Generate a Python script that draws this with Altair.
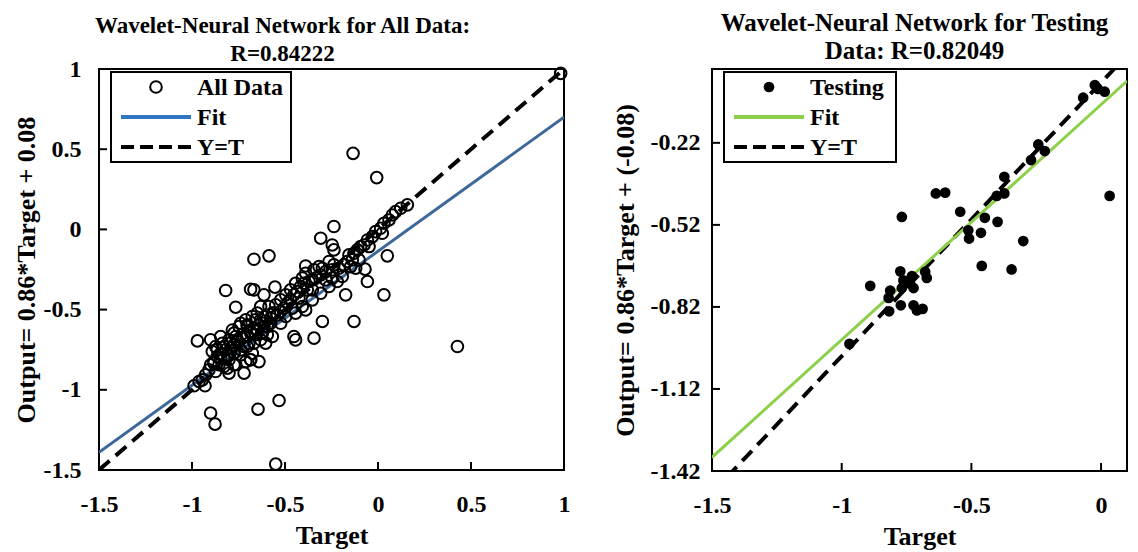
import altair as alt
import pandas as pd

# ---- All data (Target, Output) ----
all_target = [
    0.158, 0.122, 0.095, 0.077, 0.059, 0.032, 0.014, -0.013, 0.023, -0.030, -0.057, -0.075,
    -0.093, -0.048, -0.111, -0.129, -0.156, -0.138, -0.165, -0.183, -0.147, -0.210, -0.237,
    -0.263, -0.246, -0.281, -0.299, -0.308, -0.335, -0.353, -0.371, -0.398, -0.416, -0.380,
    -0.353, -0.434, -0.452, -0.425, -0.470, -0.487, -0.505, -0.461, -0.523, -0.541, -0.568,
    -0.577, -0.604, -0.613, -0.595, -0.640, -0.658, -0.667, -0.685, -0.658, -0.622, -0.703,
    -0.729, -0.747, -0.756, -0.774, -0.720, -0.694, -0.792, -0.819, -0.774, -0.738, -0.846,
    -0.864, -0.828, -0.801, -0.882, -0.855, -0.810, -0.765, -0.711, -0.640, -0.900, -0.909,
    -0.873, -0.801, -0.720, -0.927, -0.944, -0.962,
    -0.550, -0.586, -0.523, -0.496, -0.470, -0.443, -0.407, -0.389, -0.344, -0.317, -0.649,
    -0.631, -0.676, -0.711, -0.738, -0.703, -0.783, -0.765, -0.801, -0.837, -0.873, -0.891,
    -0.676, -0.685, -0.604, -0.568, -0.523, -0.496, -0.443, -0.407, -0.353, -0.308, -0.263,
    -0.219, -0.192, -0.246, -0.281, -0.102, -0.120,
    -0.864, -0.828, -0.792, -0.756, -0.720, -0.684, -0.649, -0.613, -0.577, -0.846, -0.810,
    -0.774, -0.738, -0.703, -0.667, -0.631, -0.595, -0.882, -0.774, -0.684, -0.828, -0.900,
    -0.846, -0.774, -0.703, -0.631, -0.559,
    0.982, -0.134, -0.007, -0.237, -0.308, -0.246, -0.237, -0.667, -0.586, -0.389, 0.050,
    -0.070, -0.057, 0.032, -0.174, -0.129, -0.299, -0.344, -0.452, -0.443, -0.819, -0.765,
    -0.685, -0.667, -0.554, -0.971, 0.427, -0.989, -0.930, -0.532, -0.645, -0.900, -0.876,
    -0.550, -0.613, -0.389,
]
all_output = [
    0.153, 0.132, 0.111, 0.090, 0.059, 0.038, 0.007, -0.014, -0.024, -0.045, -0.066, -0.097,
    -0.107, -0.107, -0.128, -0.149, -0.159, -0.190, -0.200, -0.221, -0.232, -0.242, -0.221,
    -0.200, -0.252, -0.263, -0.242, -0.284, -0.304, -0.315, -0.325, -0.336, -0.356, -0.377,
    -0.377, -0.387, -0.408, -0.429, -0.439, -0.460, -0.491, -0.491, -0.512, -0.533, -0.522,
    -0.554, -0.543, -0.585, -0.606, -0.595, -0.564, -0.616, -0.637, -0.657, -0.647, -0.668,
    -0.678, -0.606, -0.699, -0.720, -0.730, -0.709, -0.740, -0.751, -0.771, -0.782, -0.772,
    -0.792, -0.803, -0.813, -0.824, -0.844, -0.865, -0.844, -0.824, -0.824, -0.844, -0.876,
    -0.886, -0.896, -0.896, -0.907, -0.938, -0.948,
    -0.470, -0.481, -0.439, -0.408, -0.377, -0.336, -0.304, -0.273, -0.252, -0.232, -0.522,
    -0.481, -0.543, -0.564, -0.585, -0.606, -0.627, -0.668, -0.689, -0.710, -0.730, -0.761,
    -0.772, -0.813, -0.709, -0.668, -0.585, -0.543, -0.522, -0.481, -0.439, -0.398, -0.356,
    -0.325, -0.294, -0.304, -0.315, -0.190, -0.242,
    -0.751, -0.730, -0.709, -0.688, -0.668, -0.647, -0.626, -0.606, -0.585, -0.803, -0.782,
    -0.771, -0.751, -0.730, -0.709, -0.688, -0.657, -0.834, -0.844, -0.813, -0.855, -0.688,
    -0.668, -0.647, -0.595, -0.564, -0.522,
    0.973, 0.474, 0.323, 0.018, -0.055, -0.097, -0.128, -0.186, -0.165, -0.228, -0.165,
    -0.248, -0.325, -0.408, -0.408, -0.574, -0.574, -0.678, -0.668, -0.689, -0.381, -0.485,
    -0.373, -0.377, -0.360, -0.695, -0.730, -0.975, -0.975, -1.067, -1.121, -1.145, -1.214,
    -1.463, -0.408, -0.502,
]

# ---- Testing data ----
test_target = [
    -0.024, 0.014, -0.012, -0.069, 0.033, -0.242, -0.217, -0.270, -0.373, -0.373, -0.402,
    -0.637, -0.601, -0.768, -0.543, -0.448, -0.399, -0.512, -0.509, -0.463, -0.300, -0.460,
    -0.345, -0.774, -0.729, -0.762, -0.736, -0.723, -0.768, -0.678, -0.672, -0.890, -0.813,
    -0.819, -0.817, -0.772, -0.723, -0.710, -0.688, -0.970,
]
test_output = [
    -0.009, -0.033, -0.023, -0.055, -0.414, -0.226, -0.250, -0.283, -0.344, -0.405, -0.414,
    -0.405, -0.402, -0.491, -0.472, -0.494, -0.509, -0.540, -0.570, -0.549, -0.579, -0.670,
    -0.683, -0.690, -0.707, -0.723, -0.735, -0.751, -0.751, -0.692, -0.714, -0.743, -0.760,
    -0.787, -0.836, -0.814, -0.814, -0.833, -0.827, -0.955,
]

# Fitted lines and the Y=T reference, as end points
fit_all_t = [-1.5, 1.0]
fit_all_o = [-1.39, 0.70]
yt_all = [-1.5, 1.0]

fit_test_t = [-1.5, 0.1]
fit_test_o = [-1.37, 0.006]
yt_test = [-1.5, 0.1]

# Axis settings
all_domain = [-1.5, 1.0]
all_ticks = [-1.5, -1, -0.5, 0, 0.5, 1]
test_xdomain = [-1.5, 0.1]
test_xticks = [-1.5, -1, -0.5, 0]
test_ydomain = [-1.42, 0.05]
test_yticks = [-1.42, -1.12, -0.82, -0.52, -0.22]

FONT = "Liberation Serif"


def panel(points, pt_mark, fit_t, fit_o, fit_color, yt, xdom, xticks, ydom, yticks,
          ytitle, title_lines, title_size, title_dx, title_offset, w, h, ylabel_pad,
          ytitle_pad, legend_label, legend_w, legend_fit_color, legend_point):
    xs = alt.Scale(domain=xdom, nice=False, zero=False)
    ys = alt.Scale(domain=ydom, nice=False, zero=False)
    xaxis = alt.Axis(values=xticks, labelExpr="datum.value + ''", title="Target",
                     labelPadding=22, titlePadding=6, labelFlush=False, labelOverlap=False)
    yaxis = alt.Axis(values=yticks, labelExpr="datum.value + ''", title=ytitle,
                     labelPadding=ylabel_pad, titlePadding=ytitle_pad, labelOverlap=False)

    pts = alt.Chart(points).encode(
        x=alt.X("t:Q", scale=xs, axis=xaxis),
        y=alt.Y("o:Q", scale=ys, axis=yaxis),
    )
    pts = pts.mark_point(**pt_mark)

    fit = alt.Chart(pd.DataFrame({"t": fit_t, "o": fit_o})).mark_line(
        color=fit_color, strokeWidth=3, clip=True
    ).encode(x=alt.X("t:Q", scale=xs), y=alt.Y("o:Q", scale=ys))

    ytl = alt.Chart(pd.DataFrame({"t": yt, "o": yt})).mark_line(
        color="black", strokeWidth=4, strokeDash=[14, 8], clip=True
    ).encode(x=alt.X("t:Q", scale=xs), y=alt.Y("o:Q", scale=ys))

    # inward tick marks
    xt = alt.Chart(pd.DataFrame({"v": xticks})).mark_rule(color="black", strokeWidth=2).encode(
        x=alt.X("v:Q", scale=xs), y=alt.value(h), y2=alt.value(h - 8))
    yt_ = alt.Chart(pd.DataFrame({"v": yticks})).mark_rule(color="black", strokeWidth=2).encode(
        y=alt.Y("v:Q", scale=ys), x=alt.value(0), x2=alt.value(8))

    # legend box
    one = pd.DataFrame({"k": [0]})
    box = alt.Chart(one).mark_rect(fill="white", stroke="black", strokeWidth=2).encode(
        x=alt.value(12), x2=alt.value(12 + legend_w), y=alt.value(3), y2=alt.value(93))
    lp = alt.Chart(one).mark_point(**legend_point).encode(x=alt.value(57), y=alt.value(18))
    lf = alt.Chart(one).mark_rule(color=legend_fit_color, strokeWidth=4).encode(
        x=alt.value(22), x2=alt.value(92), y=alt.value(48), y2=alt.value(48))
    ly = alt.Chart(one).mark_rule(color="black", strokeWidth=4, strokeDash=[13, 6]).encode(
        x=alt.value(22), x2=alt.value(92), y=alt.value(78), y2=alt.value(78))
    txt_kw = dict(font=FONT, fontWeight="bold", fontSize=24, align="left",
                  baseline="middle", color="black")
    t1 = alt.Chart(one).mark_text(**txt_kw).encode(
        x=alt.value(98), y=alt.value(19), text=alt.value(legend_label))
    t2 = alt.Chart(one).mark_text(**txt_kw).encode(
        x=alt.value(98), y=alt.value(49), text=alt.value("Fit"))
    t3 = alt.Chart(one).mark_text(**txt_kw).encode(
        x=alt.value(98), y=alt.value(79), text=alt.value("Y=T"))

    return alt.layer(ytl, fit, pts, xt, yt_, box, lp, lf, ly, t1, t2, t3).properties(
        width=w, height=h,
        title=alt.Title(title_lines, font=FONT, fontWeight="bold", fontSize=title_size,
                        lineHeight=28, dx=title_dx, offset=title_offset, color="black"),
    )


circle_style = dict(shape="circle", size=135, filled=False, color="black",
                    strokeWidth=2, opacity=1)
dot_style = dict(shape="circle", size=115, filled=True, color="black", opacity=1)

left = panel(
    pd.DataFrame({"t": all_target, "o": all_output}),
    circle_style,
    fit_all_t, fit_all_o, "#3e6899", yt_all,
    all_domain, all_ticks, all_domain, all_ticks,
    "Output= 0.86*Target + 0.08",
    ["Wavelet-Neural Network for All Data:", "R=0.84222"], 23, -49, -9, 465, 401, 18, 4,
    "All Data", 180, "#2f77c0",
    circle_style,
)

right = panel(
    pd.DataFrame({"t": test_target, "o": test_output}),
    dot_style,
    fit_test_t, fit_test_o, "#8cd04a", yt_test,
    test_xdomain, test_xticks, test_ydomain, test_yticks,
    "Output= 0.86*Target + (-0.08)",
    ["Wavelet-Neural Network for Testing", "Data: R=0.82049"], 25, -5, 5, 415, 402, 12, 12,
    "Testing", 172, "#8cd04a",
    dot_style,
)

chart = alt.hconcat(left, right, spacing=148, bounds="flush").properties(
    padding={"left": 12, "top": 10, "right": 4, "bottom": 2},
    background="white",
).configure_view(
    stroke="black", strokeWidth=2
).configure_axis(
    domain=False, ticks=False, grid=False,
    labelFont=FONT, labelFontWeight="bold", labelFontSize=24, labelColor="black",
    titleFont=FONT, titleFontWeight="bold", titleFontSize=26, titleColor="black",
)

chart.save("out.html", embed_options={"renderer": "svg", "actions": False})
